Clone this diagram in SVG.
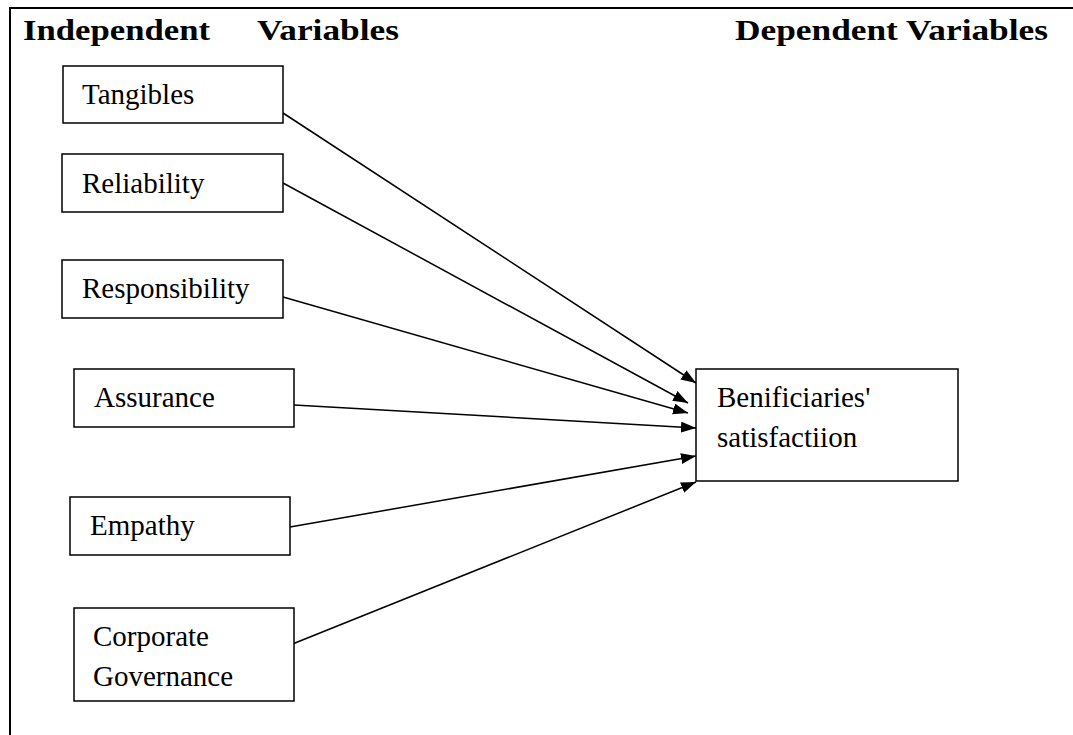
<svg xmlns="http://www.w3.org/2000/svg" width="1073" height="735" viewBox="0 0 1073 735">
<style>
.box{fill:#fff;stroke:#000;stroke-width:1.5}
.lbl{font-family:"Liberation Serif","Times New Roman",serif;font-size:29px;fill:#000}
.ttl{font-family:"Liberation Serif","Times New Roman",serif;font-size:29px;font-weight:bold;fill:#000}
.edge{stroke:#000;stroke-width:1.5;fill:none;marker-end:url(#arr)}
.frame{stroke:#000;stroke-width:2;fill:none}
</style>
<defs>
<marker id="arr" markerUnits="userSpaceOnUse" markerWidth="16" markerHeight="12" refX="15" refY="5.5" orient="auto">
<path d="M0,0 L15,5.5 L0,11 Z" fill="#000"/>
</marker>
</defs>
<rect width="1073" height="735" fill="#fff"/>
<g id="frame">
<path class="frame" d="M10,735 L10,8 L1073,8"/>
</g>
<g id="titles">
<text class="ttl" x="23" y="40" textLength="187" lengthAdjust="spacingAndGlyphs">Independent</text>
<text class="ttl" x="257" y="40" textLength="142" lengthAdjust="spacingAndGlyphs">Variables</text>
<text class="ttl" x="735" y="40" textLength="313" lengthAdjust="spacingAndGlyphs">Dependent Variables</text>
</g>
<g id="connectors">
<line class="edge" x1="283" y1="113" x2="696" y2="383"/>
<line class="edge" x1="283" y1="183" x2="688" y2="403"/>
<line class="edge" x1="283" y1="297" x2="688" y2="413"/>
<line class="edge" x1="294" y1="405" x2="696" y2="428"/>
<line class="edge" x1="290" y1="527" x2="696" y2="456"/>
<line class="edge" x1="290" y1="645" x2="696" y2="482"/>
</g>
<g id="tangibles">
<rect class="box" x="63" y="66" width="220" height="57"/>
<text class="lbl" x="82" y="104">Tangibles</text>
</g>
<g id="reliability">
<rect class="box" x="62" y="154" width="221" height="58"/>
<text class="lbl" x="82" y="193">Reliability</text>
</g>
<g id="responsibility">
<rect class="box" x="62" y="260" width="221" height="58"/>
<text class="lbl" x="82" y="298">Responsibility</text>
</g>
<g id="assurance">
<rect class="box" x="74" y="369" width="220" height="58"/>
<text class="lbl" x="94" y="407">Assurance</text>
</g>
<g id="empathy">
<rect class="box" x="70" y="497" width="220" height="58"/>
<text class="lbl" x="90" y="535">Empathy</text>
</g>
<g id="corporate">
<rect class="box" x="74" y="608" width="220" height="93"/>
<text class="lbl" x="93" y="646">Corporate</text>
<text class="lbl" x="93" y="686">Governance</text>
</g>
<g id="satisfaction">
<rect class="box" x="696" y="369" width="262" height="112"/>
<text class="lbl" x="717" y="407">Benificiaries'</text>
<text class="lbl" x="717" y="447">satisfactiion</text>
</g>
</svg>
